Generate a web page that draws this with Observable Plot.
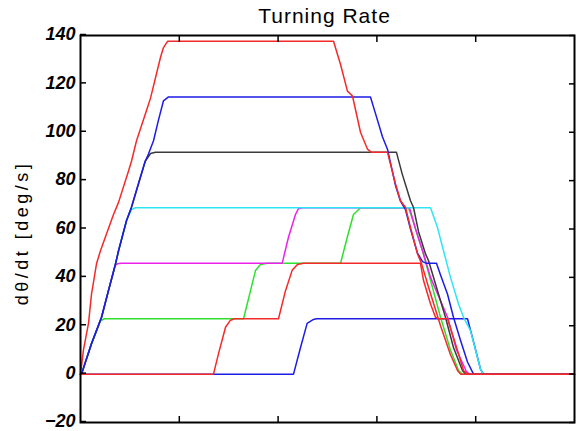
<!DOCTYPE html>
<html><head><meta charset="utf-8">
<script src="https://cdn.jsdelivr.net/npm/d3@7"></script>
<script src="https://cdn.jsdelivr.net/npm/@observablehq/plot@0.6"></script>
<style>body{margin:0;background:#fff}</style>
</head><body><div id="chart"></div>
<script>
const title = "Turning Rate";
const yLabel = "dθ/dt [deg/s]";
const yTicks = [-20, 0, 20, 40, 60, 80, 100, 120, 140];
const xTicks = [1, 2, 3, 4];

// [time, turning rate] pairs
const blueC = [[0,0],[2.156,0],[2.227,11],[2.294,21],[2.358,22.6],[2.389,22.9],[3.917,22.9],[3.968,15],[4.049,2],[4.079,0],[5,0]];
const green = [[0,0],[0.010,0],[0.111,12.6],[0.202,22],[0.243,22.9],[1.650,22.9],[1.721,34.5],[1.771,42.8],[1.822,45.3],[1.890,45.8],[2.632,45.8],[2.700,56.6],[2.763,66],[2.834,68.8],[3.320,68.8],[3.360,64],[3.462,51],[3.644,23.5],[3.745,10],[3.826,1.5],[3.866,0],[5,0]];
const magenta = [[0,0],[0.010,0],[0.111,12.6],[0.213,23.5],[0.283,34.5],[0.351,45],[0.374,45.6],[0.415,45.8],[2.041,45.8],[2.105,56.6],[2.176,66],[2.206,68.4],[2.247,68.8],[3.330,68.8],[3.391,60],[3.462,51],[3.543,40],[3.715,23.5],[3.806,10],[3.907,1],[3.937,0],[5,0]];
const cyan = [[0,0],[0.010,0],[0.111,12.6],[0.213,23.5],[0.283,34.5],[0.351,45],[0.385,51],[0.466,63.5],[0.516,68],[0.557,68.8],[3.543,68.8],[3.613,60.6],[3.674,51],[3.745,40],[3.826,29],[3.877,23.5],[3.947,18],[4.049,2],[4.079,0],[5,0]];
const black = [[0,0],[0.010,0],[0.111,12.6],[0.213,23.5],[0.283,34.5],[0.351,45],[0.385,51],[0.466,63.5],[0.516,69],[0.567,76],[0.655,88],[0.709,91.2],[0.759,91.7],[3.198,91.7],[3.256,82.8],[3.340,71.7],[3.370,69],[3.421,59],[3.492,49.7],[3.522,47],[3.694,23.5],[3.775,11],[3.866,1.5],[3.897,0],[5,0]];
const blueA = [[0,0],[0.010,0],[0.111,12.6],[0.213,23.5],[0.283,34.5],[0.351,45],[0.385,51],[0.466,63.5],[0.516,69],[0.567,76],[0.655,88],[0.688,91],[0.739,96.5],[0.789,105],[0.840,113],[0.891,114.6],[2.935,114.6],[2.986,107.7],[3.057,98],[3.107,93],[3.188,78],[3.239,71.5],[3.289,68],[3.340,60],[3.411,50],[3.462,46.5],[3.502,45.8],[3.603,45.8],[3.644,41],[3.715,33],[3.775,23.5],[3.846,14],[3.917,5],[3.978,0],[5,0]];
const redA = [[0,0],[0.030,10],[0.081,21],[0.111,33],[0.162,45.6],[0.202,51],[0.334,66],[0.385,71],[0.486,84],[0.516,88],[0.567,96.5],[0.668,109],[0.708,114],[0.810,131],[0.840,135],[0.881,137.6],[2.561,137.6],[2.632,128],[2.702,117],[2.753,115],[2.834,100],[2.905,93],[2.945,91.7],[3.107,91.7],[3.188,78.7],[3.239,71.7],[3.289,69],[3.340,60.6],[3.411,49.7],[3.451,45.8],[3.522,36],[3.644,20],[3.745,8],[3.816,1.5],[3.846,0],[5,0]];
const redB = [[0,0],[1.346,0],[1.397,8.5],[1.468,19.4],[1.518,22.3],[1.559,22.9],[2.004,22.9],[2.075,34.5],[2.143,43],[2.196,45.3],[2.257,45.8],[3.441,45.8],[3.472,38.7],[3.543,29],[3.593,23.5],[3.623,22.9],[3.715,22.9],[3.816,9.8],[3.877,1.5],[3.917,0],[5,0]];

const seriesNames = ["blueC", "green", "magenta", "cyan", "black", "blueA", "redA", "redB"];
const seriesData = [blueC, green, magenta, cyan, black, blueA, redA, redB];
const seriesColors = ["#1c1ce6", "#2ee02e", "#ec22ec", "#2ee6f2", "#3a3a3a", "#1c1ce6", "#f42a2a", "#f42a2a"];

const rows = [];
seriesData.forEach((s, i) => s.forEach(([t, v]) => rows.push({name: seriesNames[i], t, v})));

const font = "'Liberation Sans', Arial, sans-serif";
const blank = () => "";
const chart = Plot.plot({
  width: 581, height: 431,
  marginLeft: 80, marginRight: 7, marginTop: 35, marginBottom: 9,
  style: {fontFamily: font, background: "#fff", color: "#000"},
  x: {domain: [0, 5]},
  y: {domain: [-20, 140]},
  color: {domain: seriesNames, range: seriesColors},
  marks: [
    Plot.line(rows, {x: "t", y: "v", z: "name", stroke: "name", strokeWidth: 1.5}),
    Plot.frame({stroke: "#000", strokeWidth: 2}),
    Plot.axisY(yTicks, {anchor: "left", tickSize: 6, dx: 6, dy: -1, tickPadding: 5, fontSize: 18, fontWeight: "bold", fontStyle: "italic", label: null, stroke: "#000", strokeWidth: 1.5}),
    Plot.axisY(yTicks, {anchor: "right", tickSize: 6, dx: -6, tickFormat: blank, label: null, strokeWidth: 1.5}),
    Plot.axisX(xTicks, {anchor: "bottom", tickSize: 6, dy: -6, tickFormat: blank, label: null, strokeWidth: 1.5}),
    Plot.axisX(xTicks, {anchor: "top", tickSize: 6, dy: 6, tickFormat: blank, label: null, strokeWidth: 1.5}),
    Plot.text([title], {frameAnchor: "top", lineAnchor: "middle", textAnchor: "middle", dx: -3, dy: -19, fontSize: 21, fill: "#000"}),
    Plot.text([yLabel], {frameAnchor: "left", lineAnchor: "middle", textAnchor: "middle", rotate: -90, dx: -58, dy: 4, fontSize: 18, fill: "#000"})
  ]
});
d3.select(chart).selectAll("text").each(function() {
  const t = this.textContent;
  if (t === title) this.style.letterSpacing = "1px";
  if (t === yLabel) this.style.letterSpacing = "3.5px";
});
document.getElementById("chart").appendChild(chart);
</script>
</body></html>
